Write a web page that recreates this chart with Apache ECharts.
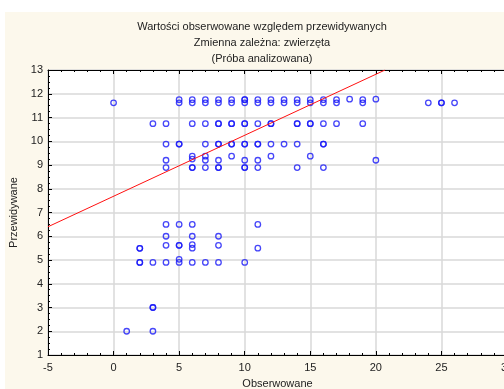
<!DOCTYPE html>
<html>
<head>
<meta charset="utf-8">
<script src="https://cdn.jsdelivr.net/npm/echarts@6/dist/echarts.min.js"></script>
<style>
  html, body { margin: 0; padding: 0; background: #fff; }
  #chart { width: 504px; height: 389px; }
</style>
</head>
<body>
<div id="chart"></div>
<script>
// Observed vs predicted values (each entry one case; repeated pairs overlap)
const observed = [
  0,
  1,
  2, 2, 2, 2,
  3, 3, 3, 3, 3,
  4, 4, 4, 4, 4, 4, 4, 4,
  5, 5, 5, 5, 5, 5, 5, 5, 5,
  6, 6, 6, 6, 6, 6, 6, 6, 6, 6, 6, 6,
  7, 7, 7, 7, 7, 7, 7, 7,
  8, 8, 8, 8, 8, 8, 8, 8, 8, 8, 8, 8,
  9, 9, 9, 9, 9, 9, 9,
  10, 10, 10, 10, 10, 10, 10, 10, 10, 10, 10,
  11, 11, 11, 11, 11, 11, 11, 11, 11,
  12, 12, 12, 12, 12, 12,
  13, 13, 13,
  14, 14, 14, 14, 14, 14,
  15, 15, 15, 15, 15,
  16, 16, 16, 16, 16, 16,
  17, 17, 17,
  18,
  19, 19, 19,
  20, 20,
  24,
  25, 25,
  26
];
const predicted = [
  11.62,
  2.0,
  5.49, 5.49, 4.9, 4.9,
  10.74, 4.9, 3.0, 3.0, 2.0,
  10.74, 9.88, 9.2, 8.89, 6.5, 6.0, 5.62, 4.9,
  11.75, 11.62, 9.88, 9.88, 6.5, 5.62, 5.62, 5.03, 4.9,
  11.75, 11.62, 10.74, 9.37, 9.25, 8.89, 8.89, 6.5, 6.0, 5.65, 5.5, 4.9,
  11.75, 11.62, 10.74, 9.88, 9.37, 9.2, 8.89, 4.9,
  11.75, 11.62, 10.74, 10.74, 9.88, 9.88, 9.2, 8.89, 8.89, 6.0, 5.62, 4.9,
  11.75, 11.62, 10.74, 10.74, 9.88, 9.88, 9.37,
  11.75, 11.75, 11.62, 10.74, 10.74, 9.88, 9.88, 9.2, 8.89, 8.89, 4.9,
  11.75, 11.62, 10.74, 9.88, 9.88, 9.2, 8.89, 6.5, 5.5,
  11.75, 11.62, 10.74, 10.74, 9.88, 9.37,
  11.75, 11.62, 9.88,
  11.75, 11.62, 10.74, 10.74, 9.88, 8.89,
  11.75, 11.62, 10.74, 10.74, 9.37,
  11.75, 11.62, 10.74, 9.88, 9.88, 8.89,
  11.75, 11.62, 10.74,
  11.77,
  11.75, 11.62, 10.74,
  11.77, 9.2,
  11.62,
  11.62, 11.62,
  11.62
];
// Fitted line end points (observed, predicted)
const fitLine = [[-5, 6.4], [20.7, 13]];

const titleLines = [
  'Wartości obserwowane względem przewidywanych',
  'Zmienna zależna: zwierzęta',
  '(Próba analizowana)'
];
const xAxisTitle = 'Obserwowane';
const yAxisTitle = 'Przewidywane';

const points = observed.map((x, i) => [x, predicted[i]]);
const font = '"Liberation Sans", Arial, sans-serif';

const chart = echarts.init(document.getElementById('chart'), null, { renderer: 'canvas' });
chart.setOption({
  backgroundColor: '#fcf8ec',
  animation: false,
  graphic: [
    { type: 'rect', shape: { x: 0, y: 0, width: 504, height: 12 }, style: { fill: '#ffffff' }, z: -5, silent: true },
    { type: 'rect', shape: { x: 0, y: 0, width: 5, height: 389 }, style: { fill: '#ffffff' }, z: -5, silent: true },
    {
      type: 'text', x: 262, y: 19,
      style: {
        text: titleLines.join('\n'), fill: '#222', font: '11px ' + font,
        align: 'center', verticalAlign: 'top', lineHeight: 16
      }
    }
  ],
  grid: {
    left: 48, top: 70, width: 459, bottom: 34,
    outerBoundsMode: 'none', containLabel: false,
    show: true, backgroundColor: '#ffffff', borderWidth: 0
  },
  xAxis: [
    {
      type: 'value', min: -5, max: 30, interval: 5, position: 'bottom',
      name: xAxisTitle, nameLocation: 'middle', nameGap: 23,
      nameTextStyle: { color: '#222', fontSize: 11, fontFamily: font },
      axisLine: { show: true, onZero: false, lineStyle: { color: '#000', width: 1 } },
      axisTick: { show: true, inside: true, length: 4, lineStyle: { color: '#000' } },
      minorTick: { show: true, splitNumber: 5, length: 2, lineStyle: { color: '#000' } },
      axisLabel: { color: '#222', fontSize: 11, fontFamily: font, margin: 7 },
      splitLine: { show: true, lineStyle: { color: '#d9d9d9', width: 1.5 } }
    },
    {
      type: 'value', min: -5, max: 30, interval: 5, position: 'top',
      axisLine: { show: true, onZero: false, lineStyle: { color: '#000', width: 1 } },
      axisTick: { show: true, inside: true, length: 4, lineStyle: { color: '#000' } },
      minorTick: { show: true, splitNumber: 5, length: 2, lineStyle: { color: '#000' } },
      axisLabel: { show: false },
      splitLine: { show: false }
    }
  ],
  yAxis: {
    type: 'value', min: 1, max: 13, interval: 1,
    name: yAxisTitle, nameLocation: 'middle', nameGap: 18, nameRotate: 90,
    nameTextStyle: { color: '#222', fontSize: 11, fontFamily: font },
    axisLine: { show: true, onZero: false, lineStyle: { color: '#000', width: 1 } },
    axisTick: { show: true, inside: true, length: 4, lineStyle: { color: '#000' } },
    minorTick: { show: true, splitNumber: 4, length: 2, lineStyle: { color: '#000' } },
    axisLabel: { color: '#222', fontSize: 11, fontFamily: font, margin: 5 },
    splitLine: { show: true, lineStyle: { color: '#d9d9d9', width: 1.5 } }
  },
  series: [
    {
      type: 'scatter', xAxisIndex: 0, data: points,
      symbol: 'circle', symbolSize: 5.5,
      itemStyle: { color: 'rgba(0,0,0,0)', borderColor: '#1818f8', borderWidth: 1.3 },
      z: 3
    },
    {
      type: 'line', xAxisIndex: 0, data: fitLine, symbol: 'none', clip: true,
      lineStyle: { color: '#ff1010', width: 1 }, z: 4
    }
  ]
});
</script>
</body>
</html>
